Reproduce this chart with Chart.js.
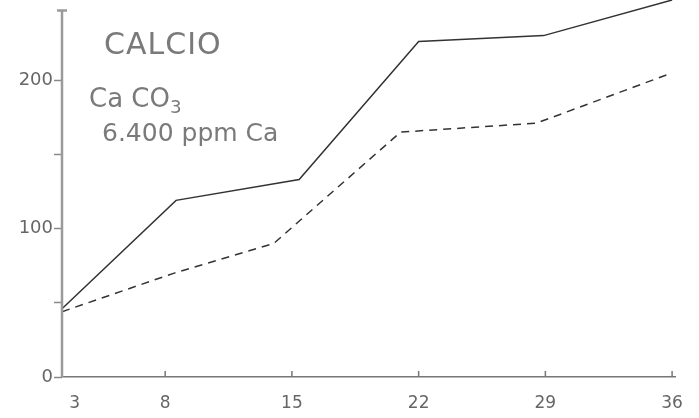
<!DOCTYPE html>
<html>
<head>
<meta charset="utf-8">
<script src="https://cdn.jsdelivr.net/npm/chart.js@4/dist/chart.umd.min.js"></script>
<style>
    html, body { margin: 0; padding: 0; background: #fff; }
    #wrap { position: relative; width: 699px; height: 418px; }
    #calcioChart { display: block; }
    .note { position: absolute; font-family: 'DejaVu Sans', sans-serif; color: #7a7a7a; line-height: 1; white-space: nowrap; }
    .note sub { font-size: 0.7em; vertical-align: -0.35em; }
</style>
</head>
<body>
<div id="wrap">
    <canvas id="calcioChart" width="699" height="418"></canvas>
    <div class="note" style="left:104px; top:29px; font-size:30px; letter-spacing:1px;">CALCIO</div>
    <div class="note" style="left:89px; top:85px; font-size:26px;">Ca CO<sub>3</sub></div>
    <div class="note" style="left:102px; top:120px; font-size:25px;">6.400 ppm Ca</div>
</div>
<script>
// days on the x axis, and where the y axis gets labels
const dayTicks = [3, 8, 15, 22, 29, 36];
const yTicks = [0, 50, 100, 150, 200];
const yLabels = [0, 100, 200];

// solid curve
const solidDays = [2.3, 8.6, 15.4, 22, 28.9, 36];
const solidValues = [46, 119, 133, 226, 230, 254];

// dashed curve
const dashedDays = [2.3, 8.5, 14, 21, 28.5, 35.8];
const dashedValues = [44, 70, 90, 165, 171, 204];

const toPoints = (xs, ys) => xs.map((x, i) => ({ x, y: ys[i] }));

// hand drawn axes: y axis stops short of the top, x ticks point up
const axesPlugin = {
    id: 'handAxes',
    afterDatasetsDraw(chart) {
        const { ctx, scales: { x, y } } = chart;
        const x0 = x.getPixelForValue(x.min);
        ctx.save();
        ctx.strokeStyle = '#9a9a9a';
        ctx.lineWidth = 2.5;
        ctx.beginPath();
        ctx.moveTo(x0, y.getPixelForValue(0));
        ctx.lineTo(x0, y.getPixelForValue(247));
        ctx.moveTo(x0 - 5, y.getPixelForValue(247));
        ctx.lineTo(x0 + 5, y.getPixelForValue(247));
        ctx.stroke();

        ctx.strokeStyle = '#777';
        ctx.lineWidth = 1.5;
        ctx.beginPath();
        dayTicks.slice(1).forEach((d) => {
            const px = x.getPixelForValue(d);
            ctx.moveTo(px, y.getPixelForValue(0));
            ctx.lineTo(px, y.getPixelForValue(0) - 6);
        });
        ctx.stroke();
        ctx.restore();
    },
};

new Chart(document.getElementById('calcioChart'), {
    type: 'line',
    data: {
        datasets: [{
            data: toPoints(solidDays, solidValues),
            borderColor: '#333',
            borderWidth: 1.5,
            pointRadius: 0,
            tension: 0,
        }, {
            data: toPoints(dashedDays, dashedValues),
            borderColor: '#333',
            borderWidth: 1.5,
            borderDash: [8, 6],
            pointRadius: 0,
            tension: 0,
        }],
    },
    options: {
        responsive: false,
        animation: false,
        layout: { padding: { top: 0, right: 15, bottom: 0, left: 0 } },
        plugins: { legend: { display: false }, tooltip: { enabled: false } },
        scales: {
            x: {
                type: 'linear',
                min: 2.3,
                max: 36.2,
                afterBuildTicks: (scale) => { scale.ticks = dayTicks.map((value) => ({ value })); },
                afterFit: (scale) => { scale.height = 41; },
                grid: { display: false, drawTicks: false },
                border: { display: true, color: '#777', width: 1.5 },
                ticks: {
                    padding: 16,
                    maxRotation: 0,
                    color: '#666',
                    font: { family: 'DejaVu Sans', size: 17 },
                },
            },
            y: {
                min: 0,
                max: 254,
                afterBuildTicks: (scale) => { scale.ticks = yTicks.map((value) => ({ value })); },
                afterFit: (scale) => {
                    scale.width = 62;
                    scale.paddingTop = 0;
                    scale.paddingBottom = 0;
                },
                grid: { drawOnChartArea: false, tickLength: 8, color: '#888', tickWidth: 1.5 },
                border: { display: false },
                ticks: {
                    padding: 1,
                    color: '#666',
                    font: { family: 'DejaVu Sans', size: 18 },
                    callback: (v) => (yLabels.includes(v) ? String(v) : ''),
                },
            },
        },
    },
    plugins: [axesPlugin],
});
</script>
</body>
</html>
